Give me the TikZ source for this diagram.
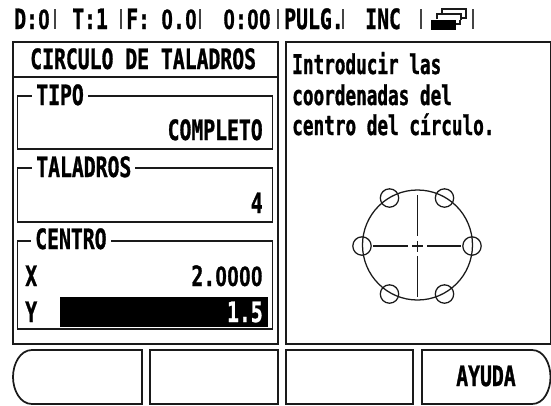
\documentclass[tikz,border=0pt]{standalone}
\usepackage{fontspec}
\newfontfamily\pixfont[FakeStretch=0.705,BoldFeatures={FakeBold=1}]{DejaVu Sans Mono}
\newfontfamily\pixtext[FakeStretch=0.65,BoldFeatures={FakeBold=1}]{DejaVu Sans Mono}
\newfontfamily\zerofont[FakeStretch=0.72,BoldFeatures={FakeBold=1}]{Liberation Sans}
\newcommand{\zz}{\makebox[8.91pt]{\zerofont\bfseries 0}}
\definecolor{ink}{HTML}{1A1A1A}
\definecolor{rulegray}{HTML}{444444}
\tikzset{
  panel/.style={draw=ink,line width=1.3pt},
  thin box/.style={draw=ink,line width=1.1pt},
  lab/.style={inner sep=0pt,anchor=base west,text=black,font=\pixfont\bfseries\fontsize{21pt}{21pt}\selectfont},
  labr/.style={lab,anchor=base east},
  head/.style={lab},
  body/.style={inner sep=0pt,anchor=base west,text=black,font=\pixtext\bfseries\fontsize{20.4pt}{20.4pt}\selectfont},
  legend/.style={lab,fill=white,inner xsep=3pt,inner ysep=1pt},
  sep/.style={draw=rulegray,line width=1pt},
  sketch/.style={draw=ink,line width=0.95pt}
}
\begin{document}
\begin{tikzpicture}[x=0.75pt,y=-0.75pt]
\useasboundingbox (0,0) rectangle (551,405);
% header
\node[head] (h1) at (14,29) {D:\zz};
\node[head] (h2) at (72,29) {T:1};
\node[head] (h3) at (126,29) {F:};
\node[head] (h4) at (161,29) {\zz.\zz};
\node[head] (h5) at (223,29) {\zz:\zz\zz};
\node[head] (h6) at (284,29) {PULG.};
\node[head] (h7) at (365,29) {INC};
\foreach \x in {55,121,200,278,343,421,473} \draw[sep] (\x,9) -- (\x,29);
% icon
\draw[sep,draw=ink] (442,13) -- (442,9) -- (466,9) -- (466,18) -- (460,18);
\draw[sep,draw=ink] (437,19) -- (437,14) -- (461,14) -- (461,20);
\fill[black] (431,20) rectangle (456,30);
\draw[sep,draw=ink] (456,24) -- (460,24) -- (460,20);
% panels
\draw[panel] (13,42) rectangle (278,344);
\draw[panel] (13,77) -- (278,77);
\draw[panel] (286,42) -- (551,42) -- (551,344) -- (286,344) -- cycle;
\node[lab] (title) at (30,69) {CIRCULO DE TALADROS};
% tipo
\draw[thin box] (17.5,96) rectangle (272.5,149);
\node[legend,anchor=base west] (tipo) at (32,105) {TIPO};
\node[labr] (tipoval) at (263,140) {COMPLETO};
% taladros
\draw[thin box] (17.5,168) rectangle (272.5,222);
\node[legend,anchor=base west] (tal) at (32,177) {TALADROS};
\node[labr] (talval) at (263,213) {4};
% centro
\draw[thin box] (17.5,241) rectangle (272.5,329);
\node[legend,anchor=base west] (cen) at (31,249) {CENTRO};
\node[lab] (xl) at (25,286) {X};
\node[labr] (xv) at (263,286) {2.\zz\zz\zz\zz};
\node[lab] (yl) at (25,322) {Y};
\fill[black] (60,297) rectangle (268,327);
\node[labr,text=white] (yv) at (263,322) {1.5};
% help text
\node[body] (t1) at (292,74) {Introducir las};
\node[body] (t2) at (292,105) {coordenadas del};
\node[body] (t3) at (292,135) {centro del círculo.};
% sketch
\coordinate (c) at (417.5,245);
\draw[sketch] (c) circle[radius=55];
\foreach \p in {(362,246),(472,246),(389.5,294),(444.5,294),(389.5,198),(444.5,198)}
  \draw[sketch] \p circle[radius=9.2];
\draw[sketch] (373,246) -- (408,246) (412,246) -- (423,246) (427,246) -- (461,246);
\draw[sketch] (417.5,195) -- (417.5,236) (417.5,241) -- (417.5,252) (417.5,256) -- (417.5,297);
% softkeys
\draw[panel] (32,350) -- (142,350) -- (142,404) -- (32,404) .. controls (20,404) and (13,390) .. (13,377) .. controls (13,364) and (20,350) .. (32,350) -- cycle;
\draw[panel] (150,350) rectangle (278,404);
\draw[panel] (286,350) rectangle (413,404);
\draw[panel] (422,350) -- (532,350) .. controls (544,350) and (550.5,364) .. (550.5,377) .. controls (550.5,390) and (544,404) .. (532,404) -- (422,404) -- cycle;
\node[lab] (ayuda) at (456,386) {AYUDA};
\end{tikzpicture}
\end{document}
